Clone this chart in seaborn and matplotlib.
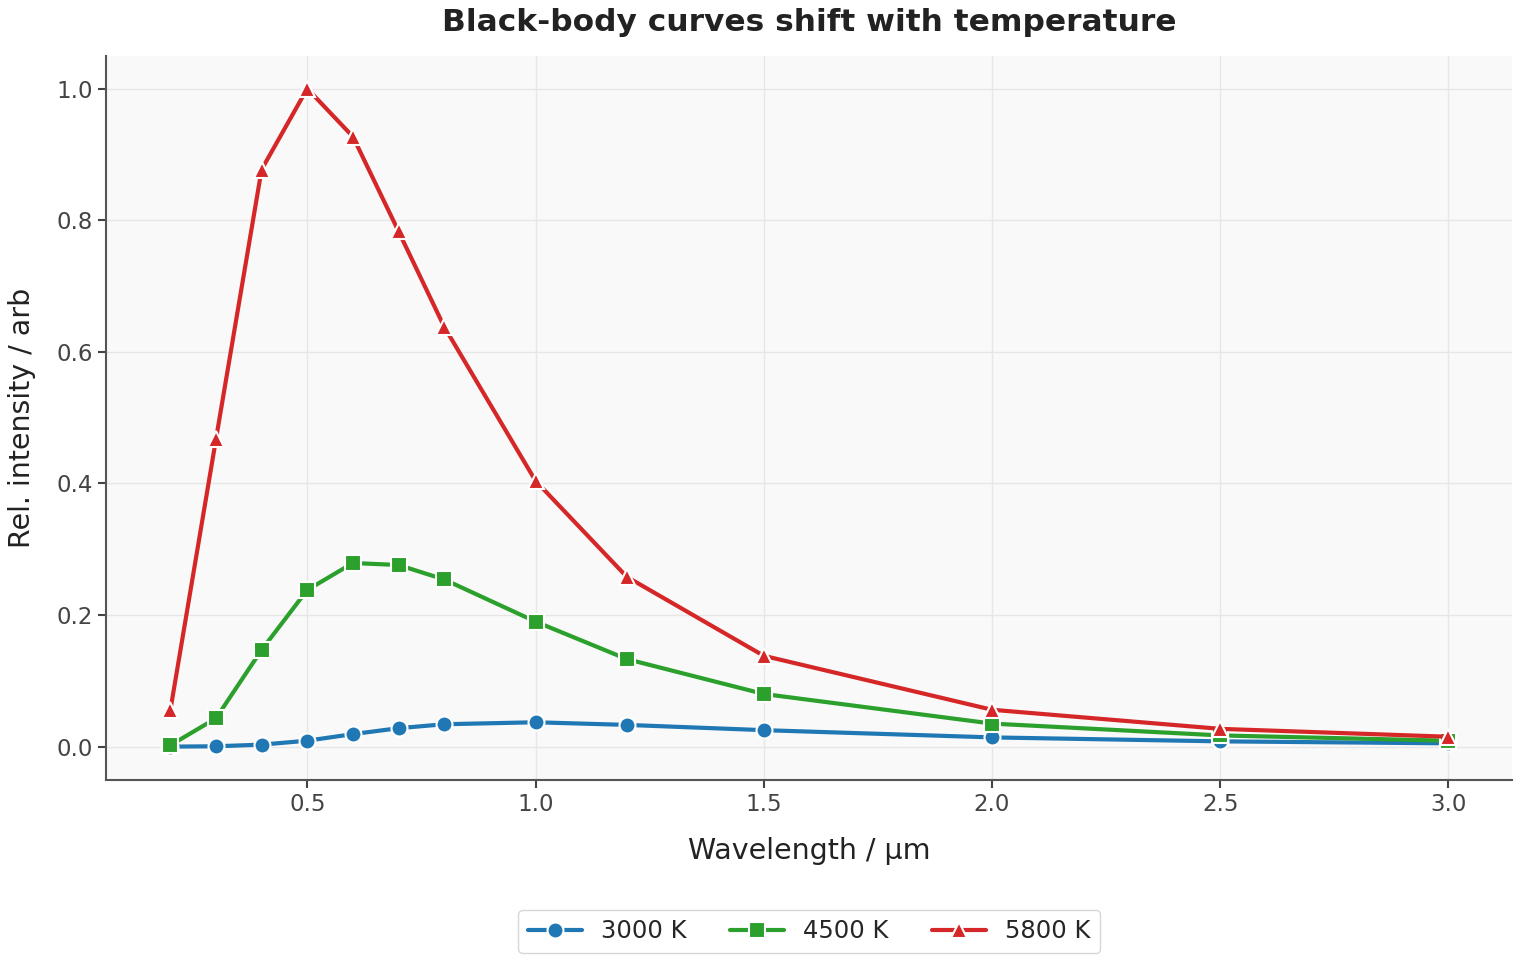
import matplotlib
matplotlib.use('Agg')
import pandas as pd
import seaborn as sns
import matplotlib.pyplot as plt

wavelength = [0.2, 0.3, 0.4, 0.5, 0.6, 0.7, 0.8, 1.0, 1.2, 1.5, 2.0, 2.5, 3.0]
t3000 = [0.0, 0.0005, 0.003, 0.009, 0.019, 0.028, 0.034, 0.037, 0.033, 0.025, 0.014, 0.008, 0.005]
t4500 = [0.002, 0.043, 0.147, 0.238, 0.279, 0.276, 0.254, 0.190, 0.133, 0.080, 0.035, 0.017, 0.009]
t5800 = [0.055, 0.467, 0.877, 1.0, 0.927, 0.783, 0.638, 0.404, 0.258, 0.138, 0.056, 0.027, 0.015]
labels = ['3000 K', '4500 K', '5800 K']

df = pd.DataFrame({'wl': wavelength * 3,
                   'val': t3000 + t4500 + t5800,
                   'T': [labels[0]] * 13 + [labels[1]] * 13 + [labels[2]] * 13})

sns.set_theme(style='ticks')
plt.rcParams['font.family'] = ['DejaVu Sans']

fig, ax = plt.subplots(figsize=(15.2, 9.6), dpi=100)
fig.subplots_adjust(left=0.07, right=0.995, top=0.942, bottom=0.188)
ax.set_facecolor('#f9f9f9')

sns.lineplot(data=df, x='wl', y='val', hue='T', style='T',
             palette=['#1f77b4', '#2ca02c', '#d62728'],
             markers=['o', 's', '^'], dashes=False,
             linewidth=3, markersize=11.5, markeredgecolor='white', markeredgewidth=1.5,
             ax=ax)

ax.grid(True, color='#e6e6e6', linewidth=1)
ax.set_axisbelow(True)
for s in ['top', 'right']:
    ax.spines[s].set_visible(False)
for s in ['left', 'bottom']:
    ax.spines[s].set_color('#555555')
    ax.spines[s].set_linewidth(1.5)
ax.tick_params(colors='#444444', labelsize=16.5, length=6, width=1.5)
ax.set_xticks([0.5, 1.0, 1.5, 2.0, 2.5, 3.0])
ax.set_yticks([0.0, 0.2, 0.4, 0.6, 0.8, 1.0])
ax.set_xlim(0.06, 3.14)
ax.set_ylim(-0.05, 1.05)

ax.set_xlabel('Wavelength / µm', fontsize=20.5, color='#222222', labelpad=15)
ax.set_ylabel('Rel. intensity / arb', fontsize=20.5, color='#222222', labelpad=15)
ax.set_title('Black-body curves shift with temperature', fontsize=22.5, fontweight='bold',
             color='#222222', pad=18)

ax.legend(loc='upper center', bbox_to_anchor=(0.5, -0.163), ncol=3, fontsize=17.5,
          frameon=True, edgecolor='#cccccc', columnspacing=1.8, handlelength=2.2,
          title=None)

fig.savefig('out.png', dpi=100)
